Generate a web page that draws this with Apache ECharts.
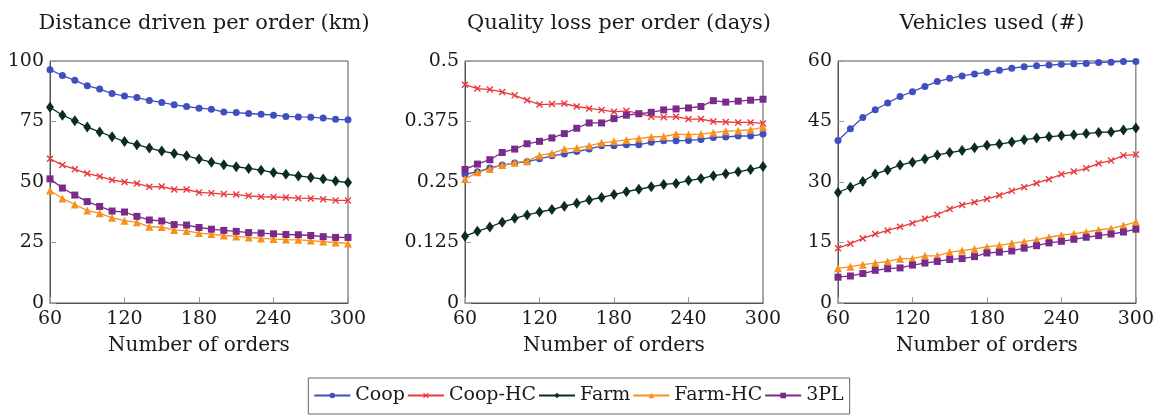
<!DOCTYPE html>
<html>
<head>
<meta charset="utf-8">
<script src="https://cdn.jsdelivr.net/npm/echarts@6/dist/echarts.min.js"></script>
<style>
html,body{margin:0;padding:0;background:#fff;}
#chart{width:1157px;height:416px;}
</style>
</head>
<body>
<div id="chart"></div>
<script>
const orders = [60,70,80,90,100,110,120,130,140,150,160,170,180,190,200,210,220,230,240,250,260,270,280,290,300];
const seriesNames = ['Coop','Coop-HC','Farm','Farm-HC','3PL'];
const panelTitles = ['Distance driven per order (km)','Quality loss per order (days)','Vehicles used (#)'];
const xTicks = [60,120,180,240,300];
const yTicksDist = [0,25,50,75,100];
const yTicksQual = [0,0.125,0.25,0.375,0.5];
const yTicksVeh = [0,15,30,45,60];

const coopDist   = [96.4,94.0,92.0,89.8,88.4,86.6,85.5,84.9,83.7,82.9,81.9,81.2,80.5,80.1,78.9,78.7,78.3,78.0,77.6,77.1,76.9,76.8,76.4,75.9,75.7];
const coopHCDist = [59.6,57.0,55.3,53.5,52.3,50.8,50.0,49.4,48.0,48.1,46.9,46.9,45.7,45.4,45.0,44.8,44.3,43.9,43.8,43.6,43.3,43.2,42.9,42.4,42.4];
const farmDist   = [80.9,77.6,75.3,72.7,70.7,68.7,66.7,65.4,64.0,62.8,61.8,60.8,59.5,58.2,57.1,56.3,55.6,54.9,53.9,53.2,52.5,51.9,51.2,50.4,49.8];
const farmHCDist = [46.5,43.2,40.7,38.2,37.1,35.2,34.0,33.4,31.5,31.4,30.2,29.8,28.9,28.5,27.9,27.5,27.1,26.7,26.4,26.2,26.1,25.8,25.4,25.0,24.6];
const tplDist    = [51.3,47.5,44.6,41.9,39.9,38.0,37.6,35.8,34.3,33.9,32.4,32.2,31.2,30.5,30.0,29.6,29.1,28.9,28.6,28.3,28.2,27.9,27.4,27.1,27.1];

const coopQual   = [0.266,0.271,0.279,0.285,0.289,0.292,0.298,0.304,0.308,0.313,0.318,0.325,0.325,0.327,0.327,0.332,0.335,0.335,0.336,0.338,0.342,0.343,0.345,0.345,0.349];
const coopHCQual = [0.451,0.443,0.441,0.436,0.429,0.419,0.410,0.411,0.412,0.406,0.402,0.399,0.395,0.397,0.392,0.385,0.384,0.385,0.380,0.380,0.375,0.374,0.373,0.373,0.371];
const farmQual   = [0.138,0.148,0.157,0.167,0.175,0.182,0.188,0.193,0.200,0.206,0.213,0.218,0.224,0.230,0.235,0.240,0.245,0.247,0.253,0.257,0.263,0.267,0.271,0.276,0.282];
const farmHCQual = [0.256,0.270,0.277,0.285,0.290,0.293,0.305,0.309,0.318,0.320,0.325,0.331,0.334,0.337,0.340,0.343,0.344,0.349,0.348,0.349,0.352,0.355,0.356,0.358,0.363];
const tplQual    = [0.276,0.287,0.296,0.311,0.318,0.329,0.334,0.341,0.350,0.361,0.372,0.372,0.381,0.388,0.391,0.394,0.399,0.401,0.403,0.406,0.418,0.415,0.417,0.419,0.421];

const coopVeh    = [40.3,43.2,46.0,47.9,49.6,51.2,52.4,53.7,54.9,55.7,56.3,56.8,57.2,57.7,58.2,58.6,58.8,59.0,59.2,59.3,59.4,59.6,59.7,59.9,59.9];
const coopHCVeh  = [13.6,14.7,16.0,17.1,18.0,18.9,19.8,20.9,21.9,23.3,24.3,25.0,25.8,26.7,27.8,28.7,29.7,30.7,31.9,32.6,33.4,34.6,35.3,36.6,36.8];
const farmVeh    = [27.4,28.7,30.1,32.0,33.0,34.2,34.9,35.7,36.7,37.3,37.8,38.5,39.1,39.4,39.9,40.5,40.9,41.2,41.5,41.7,42.0,42.3,42.4,42.9,43.4];
const farmHCVeh  = [8.6,9.0,9.5,9.9,10.3,11.0,11.0,11.7,11.7,12.6,13.0,13.4,13.9,14.3,14.8,15.2,15.7,16.3,16.8,17.2,17.6,18.1,18.5,19.2,20.1];
const tplVeh     = [6.4,6.7,7.3,8.1,8.5,8.7,9.4,9.9,10.3,10.8,11.0,11.5,12.4,12.6,12.9,13.6,14.2,14.9,15.3,15.8,16.3,16.7,17.1,17.6,18.3];

const FONT = '"DejaVu Serif", "Liberation Serif", serif';
const TXT = '#1a1a1a';
const xPath = 'path://M0,1.4L1.4,0L5,3.6L8.6,0L10,1.4L6.4,5L10,8.6L8.6,10L5,6.4L1.4,10L0,8.6L3.6,5Z';
const styles = {
  'Coop':    {color:'#3f4fbf', symbol:'circle', size:7},
  'Coop-HC': {color:'#e8383d', symbol:xPath, size:7},
  'Farm':    {color:'#0b2e1c', symbol:'diamond', size:[8,11]},
  'Farm-HC': {color:'#f7901e', symbol:'triangle', size:8},
  '3PL':     {color:'#7a2a8a', symbol:'rect', size:7}
};

const panels = [
  {ticks:yTicksDist, data:[coopDist,coopHCDist,farmDist,farmHCDist,tplDist]},
  {ticks:yTicksQual, data:[coopQual,coopHCQual,farmQual,farmHCQual,tplQual]},
  {ticks:yTicksVeh,  data:[coopVeh,coopHCVeh,farmVeh,farmHCVeh,tplVeh]}
];
const gridLefts = [50, 465, 838];
const gridWidth = 298;

const grids = [], xAxes = [], yAxes = [], series = [], titles = [];
panels.forEach((p, gi) => {
  grids.push({left:gridLefts[gi], top:61, width:gridWidth, height:242, show:true, borderColor:'#555', borderWidth:1, containLabel:false});
  titles.push({text:panelTitles[gi], left:gridLefts[gi] + gridWidth/2, top:8, textAlign:'center',
    textStyle:{fontFamily:FONT, fontSize:21, fontWeight:'normal', color:TXT}});
  xAxes.push({type:'value', gridIndex:gi, min:xTicks[0], max:xTicks[xTicks.length-1], interval:xTicks[1]-xTicks[0],
    name:'Number of orders', nameLocation:'middle', nameGap:33,
    nameTextStyle:{fontFamily:FONT, fontSize:20, color:TXT},
    axisLine:{show:true, lineStyle:{color:'#555', width:1}},
    axisTick:{show:true, inside:true, length:6, lineStyle:{color:'#999'}},
    axisLabel:{fontFamily:FONT, fontSize:19, color:TXT, margin:7},
    splitLine:{show:false}});
  const t = p.ticks;
  yAxes.push({type:'value', gridIndex:gi, min:t[0], max:t[t.length-1], interval:t[1]-t[0],
    axisLine:{show:true, lineStyle:{color:'#555', width:1}},
    axisTick:{show:true, inside:true, length:6, lineStyle:{color:'#999'}},
    axisLabel:{fontFamily:FONT, fontSize:19, color:TXT, margin:6},
    splitLine:{show:false}});
  seriesNames.forEach((name, si) => {
    const st = styles[name];
    series.push({
      name:name, type:'line', xAxisIndex:gi, yAxisIndex:gi,
      data: orders.map((x, i) => [x, p.data[si][i]]),
      symbol: st.symbol, symbolSize: st.size, showSymbol:true,
      lineStyle:{color:st.color, width:1.3},
      itemStyle:{color:st.color},
      emphasis:{disabled:true},
      animation:false, z: 2 + si
    });
  });
});

const chart = echarts.init(document.getElementById('chart'), null, {renderer:'canvas'});
chart.setOption({
  animation:false,
  backgroundColor:'#fff',
  title: titles,
  grid: grids,
  xAxis: xAxes,
  yAxis: yAxes,
  legend: {
    data: seriesNames, top:378, left:'center',
    itemWidth:36, itemHeight:7, itemGap:2,
    textStyle:{fontFamily:FONT, fontSize:19, color:TXT},
    borderColor:'#666', borderWidth:1, padding:[8,6,9,5]
  },
  series: series
});
</script>
</body>
</html>
